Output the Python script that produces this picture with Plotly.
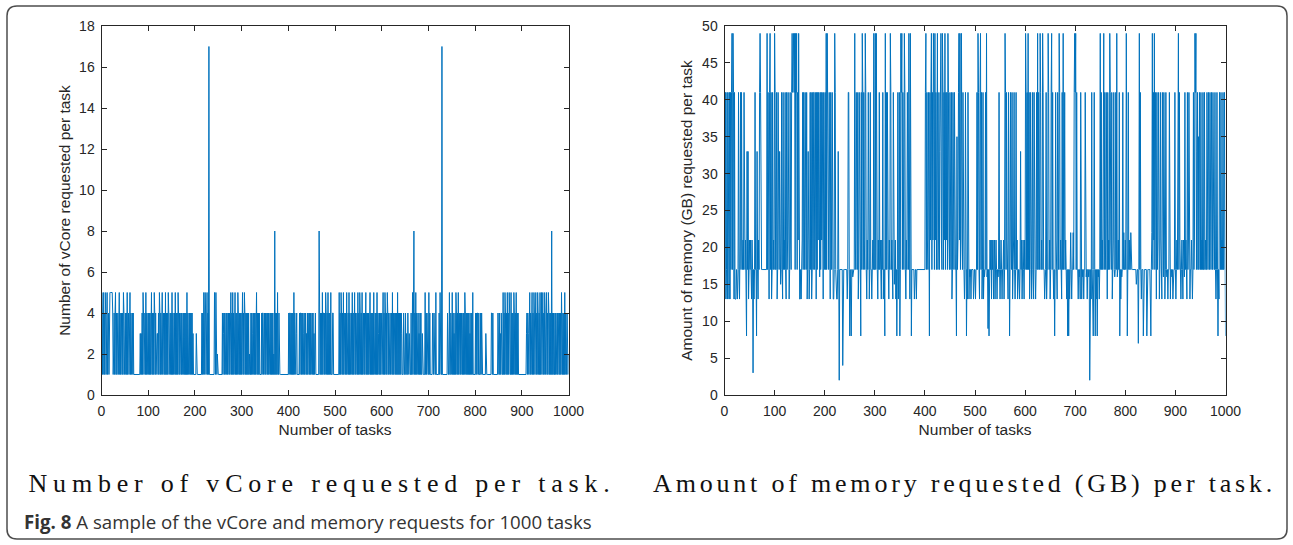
import plotly.graph_objects as go

# ---------------- data ----------------
vcore_values = [
    5,1,4,5,1,4,1,5,4,1, 4,5,1,3,4,1,5,5,5,5, 5,5,5,4,1,2,4,1,4,5, 1,4,1,4,4,1,4,5,1,4, 1,4,4,1,4,1,5,4,1,4,
    4,1,4,1,5,1,4,4,1,4, 5,1,4,1,3,4,1,4,1,1, 1,1,1,1,1,1,1,1,1,1, 1,1,3,1,3,1,4,1,5,4, 1,4,4,1,5,1,4,1,4,4,
    1,4,1,4,1,4,5,1,4,1, 4,1,5,4,1,4,1,3,3,3, 1,4,1,5,4,1,4,1,4,5, 1,4,4,1,4,1,5,1,4,1, 4,1,5,4,1,4,4,1,4,1,
    5,1,4,1,4,4,1,5,1,4, 1,4,1,5,4,1,4,1,4,4, 1,4,1,4,4,1,4,1,4,1, 4,1,5,1,4,1,4,4,1,4, 1,4,1,4,1,3,1,1,1,1,
    1,1,3,1,1,1,1,1,1,1, 1,1,1,1,4,1,4,1,5,4, 1,5,4,1,4,5,1,4,1,17, 1,1,1,1,1,1,1,1,1,1, 1,5,1,1,5,1,1,2,1,1,
    1,1,1,1,1,1,1,1,4,1, 3,4,1,4,1,3,4,1,4,1, 4,4,1,4,1,4,5,1,4,1, 5,1,4,1,4,5,1,4,1,4, 1,5,4,1,4,1,4,1,4,1,
    4,5,1,4,1,5,4,1,4,1, 4,1,4,1,4,1,2,1,1,4, 1,4,1,3,4,1,4,1,4,1, 4,5,1,4,1,4,1,4,1,1, 1,1,4,1,4,4,1,3,4,1,
    4,1,4,4,1,4,1,4,1,3, 4,1,4,1,4,1,4,1,2,1, 8,1,4,1,4,1,5,1,1,4, 1,1,1,1,1,1,1,1,1,1, 1,1,1,1,1,1,1,1,1,1,
    4,1,4,4,1,4,1,4,1,4, 1,5,1,4,2,1,3,4,1,1, 1,1,1,4,1,4,4,1,4,1, 4,3,1,4,1,4,4,1,3,1, 4,1,4,4,1,4,1,4,1,4,
    4,1,4,1,3,1,4,4,1,1, 1,1,1,1,1,8,1,1,4,1, 4,1,5,1,4,4,1,4,1,5, 4,1,4,1,5,1,4,1,4,1, 5,1,1,1,4,4,1,1,1,1,
    1,1,1,1,1,1,1,1,5,1, 4,1,5,4,1,4,1,5,1,4, 4,1,4,1,5,1,4,4,1,5, 1,4,1,4,4,1,5,1,4,1, 4,5,1,4,1,4,4,1,5,1,
    4,1,5,4,1,4,1,5,1,4, 4,1,4,1,4,5,1,4,1,4, 1,4,1,4,5,1,4,1,4,1, 4,1,5,1,4,4,1,4,1,5, 1,4,3,1,4,1,4,1,4,4,
    1,4,5,1,4,1,5,4,1,4, 1,5,4,1,4,1,4,4,1,3, 4,1,5,1,4,1,4,4,1,4, 1,4,1,5,1,4,1,4,1,4, 1,4,3,1,1,1,4,1,1,1,
    4,1,3,1,1,4,1,1,3,1, 1,1,4,1,1,5,1,4,8,1, 4,1,5,1,4,1,4,4,1,3, 1,4,1,4,1,1,3,1,1,1, 1,1,5,1,4,1,4,1,1,1,
    5,1,4,1,1,1,1,1,4,3, 1,4,1,1,1,5,1,1,1,1, 1,1,4,1,5,1,1,1,17,1, 1,1,1,1,1,1,1,1,1,1, 4,1,1,1,5,1,1,4,1,1,
    5,1,4,1,3,1,4,1,5,4, 1,4,1,5,1,4,4,1,4,1, 4,3,1,4,1,4,1,5,4,1, 4,1,4,1,4,1,4,1,3,1, 4,1,4,1,5,1,1,1,1,1,
    4,1,4,1,4,4,1,4,1,1, 1,4,1,4,1,1,1,1,1,1, 1,1,3,1,1,1,1,1,1,1, 1,1,1,1,4,4,1,4,1,1, 1,1,1,1,1,1,1,1,4,1,
    1,4,1,3,1,4,1,1,1,5, 1,4,1,5,4,1,4,1,5,1, 4,1,5,4,1,1,5,1,4,1, 4,1,5,4,1,4,1,5,1,4, 1,4,1,1,1,1,1,1,1,1,
    1,1,1,1,1,1,1,1,1,3, 4,1,4,3,1,4,5,1,4,1, 4,5,1,4,1,5,4,1,4,5, 1,4,1,5,4,1,4,1,5,1, 4,5,1,4,5,1,4,1,5,4,
    1,4,5,1,4,1,5,4,1,4, 1,4,1,8,1,4,1,4,1,1, 4,1,4,1,1,4,1,4,1,1, 4,1,4,1,5,1,1,4,1,4, 1,5,1,4,1,1,4,1,1,2,
]

memory_values = [
    13,41,13,17,41,13,41,17,13,41, 13,41,17,41,49,17,49,41,13,41, 13,13,13,17,13,13,17,41,17,13, 21,41,17,41,21,17,21,17,41,21, 17,21,17,8,33,17,33,13,17,21,
    17,21,17,13,21,17,3,17,13,17, 41,17,17,8,33,17,13,21,17,41, 49,41,21,17,17,17,17,17,17,17, 17,17,17,17,49,17,41,17,13,41, 49,17,41,13,17,41,17,21,17,49,
    41,17,17,41,13,17,41,17,17,33, 22,15,17,41,17,13,41,17,21,17, 41,17,13,41,17,21,41,17,13,17, 41,21,17,41,49,41,49,49,41,49, 17,49,41,49,17,41,21,49,17,13,
    13,17,13,17,21,41,17,41,21,17, 41,21,17,41,13,17,33,17,13,17, 41,17,41,13,17,41,17,41,41,17, 21,41,13,41,17,41,21,41,17,16, 41,17,41,21,41,17,13,41,17,17,
    41,17,49,17,49,41,21,17,41,17, 13,41,21,17,41,17,13,13,17,49, 41,17,13,13,13,17,33,17,2,17, 17,17,17,17,17,4,17,17,17,17, 17,17,17,17,13,17,41,41,17,8,
    17,13,8,17,17,16,17,17,17,49, 21,17,41,21,17,41,13,17,41,21, 17,8,41,17,49,41,17,41,21,17, 49,41,17,13,21,17,41,17,13,17, 41,17,17,13,17,21,17,49,17,17,
    49,17,49,21,17,13,21,17,41,17, 21,17,13,21,17,41,13,17,17,8, 49,17,41,17,41,21,17,13,21,17, 49,41,17,21,17,13,41,17,15,17, 21,13,17,8,17,41,13,17,41,8,
    17,49,41,49,17,41,21,17,49,41, 17,13,21,17,41,21,17,49,17,13, 49,17,8,17,17,17,17,17,13,17, 17,17,13,17,17,17,17,17,17,17, 17,17,17,17,17,17,17,17,17,17,
    41,49,17,41,21,17,41,21,8,41, 21,41,49,17,41,21,49,41,17,49, 21,41,17,41,49,17,21,41,17,33, 41,49,21,17,49,41,17,41,21,49, 17,41,21,41,17,49,41,21,17,41,
    21,17,41,13,17,41,21,17,41,17, 17,17,8,35,17,21,41,49,21,49, 17,41,49,21,17,41,21,17,13,17, 41,17,8,17,13,41,17,13,17,16, 17,13,17,17,17,17,13,17,17,17,
    13,17,17,41,17,49,41,17,13,41, 49,17,41,13,17,41,13,17,16,17, 41,17,49,16,17,9,17,8,17,21, 17,21,13,21,17,21,13,17,21,13, 17,21,17,13,17,16,17,41,17,13,
    17,21,17,13,17,17,21,13,17,49, 41,17,41,21,17,13,41,17,8,17, 41,21,17,41,13,17,21,41,17,13, 17,41,17,21,13,17,17,17,13,17, 33,17,21,13,17,21,17,13,21,17,
    49,41,17,41,17,49,17,41,13,17, 41,17,13,17,41,17,13,41,17,17, 13,17,41,17,49,17,41,17,17,49, 41,17,21,17,49,41,17,17,13,17, 17,41,13,17,17,49,41,17,21,13,
    17,41,49,17,41,17,13,17,8,17, 41,21,17,13,41,17,17,49,41,17, 21,17,13,41,17,49,17,21,41,17, 21,17,13,17,8,17,8,17,13,17, 22,17,13,17,17,22,17,41,49,41,
    49,17,41,17,17,13,17,16,17,13, 41,17,13,17,16,17,13,17,17,41, 17,16,17,13,17,17,16,17,2,17, 17,13,41,17,13,8,17,41,17,8, 17,13,17,8,17,16,17,13,17,49,
    17,41,17,21,17,41,49,17,41,21, 17,41,17,13,41,17,21,17,49,41, 21,17,41,13,17,21,41,17,16,17, 41,17,49,16,17,21,17,41,8,17, 13,17,16,17,41,17,22,17,17,21,
    17,49,17,8,17,41,17,21,17,17, 22,17,17,17,17,17,17,17,17,17, 17,15,17,17,17,7,17,49,17,41, 17,13,17,17,17,8,17,17,17,17, 17,17,8,17,17,17,17,17,17,13,
    8,17,22,49,17,41,21,49,17,41, 17,13,41,17,21,41,17,13,17,41, 21,17,13,41,17,16,41,17,13,17, 41,17,16,17,13,17,17,41,17,13, 17,17,16,17,13,17,17,17,41,17,
    13,17,21,17,41,49,17,41,21,17, 13,17,21,17,13,21,17,16,41,17, 21,17,13,41,17,21,41,17,13,17, 17,21,17,13,17,41,17,21,49,41, 49,17,33,41,17,35,17,41,17,17,
    41,17,21,17,41,17,17,41,17,21, 17,17,41,17,17,41,21,17,41,17, 17,41,17,17,41,21,17,17,41,17, 13,17,41,17,8,17,13,41,17,17, 41,17,21,17,41,17,17,41,17,8,
]

vcore_y_ticks = [0, 2, 4, 6, 8, 10, 12, 14, 16, 18]
memory_y_ticks = [0, 5, 10, 15, 20, 25, 30, 35, 40, 45, 50]
task_x_ticks = [0, 100, 200, 300, 400, 500, 600, 700, 800, 900, 1000]

vcore_tasks = list(range(1, len(vcore_values) + 1))
memory_tasks = list(range(1, len(memory_values) + 1))

x_title = "Number of tasks"
vcore_y_title = "Number of vCore requested per task"
memory_y_title = "Amount of memory (GB) requested per task"
caption_left = "Number of vCore requested per task."
caption_right = "Amount of memory requested (GB) per task."
fig_caption = "<b>Fig. 8</b> A sample of the vCore and memory requests for 1000 tasks"

# ---------------- figure ----------------
W, H = 1293, 545
LINE = "#0072BD"
AX = "#262626"
SANS = "Liberation Sans, Arial"

def px(x):
    return x / W

def py(y):
    return 1 - y / H

fig = go.Figure()
fig.add_trace(go.Scatter(x=vcore_tasks, y=vcore_values, mode="lines",
                         line=dict(color=LINE, width=1), xaxis="x", yaxis="y",
                         showlegend=False, hoverinfo="skip"))
fig.add_trace(go.Scatter(x=memory_tasks, y=memory_values, mode="lines",
                         line=dict(color=LINE, width=1), xaxis="x2", yaxis="y2",
                         showlegend=False, hoverinfo="skip"))

axis_common = dict(
    showgrid=False, zeroline=False, showline=True, linecolor=AX, linewidth=1,
    mirror="ticks", ticks="inside", ticklen=5, tickwidth=1, tickcolor=AX,
    automargin=False, ticklabelstandoff=3,
    tickfont=dict(family=SANS, size=14, color=AX),
)
title_font = dict(family=SANS, size=15.5, color=AX)
y_dom = [py(395), py(26)]

fig.update_layout(
    width=W, height=H,
    margin=dict(l=0, r=0, t=0, b=0, autoexpand=False),
    paper_bgcolor="white", plot_bgcolor="white",
    xaxis=dict(domain=[px(101.5), px(568.5)], range=[0, 1000], tickvals=task_x_ticks,
               title=dict(text=x_title, standoff=6, font=title_font),
               anchor="y", **axis_common),
    yaxis=dict(domain=y_dom, range=[0, 18], tickvals=vcore_y_ticks,
               title=dict(text=vcore_y_title, standoff=4, font=title_font),
               anchor="x", **axis_common),
    xaxis2=dict(domain=[px(724.5), px(1225.5)], range=[0, 1000], tickvals=task_x_ticks,
                title=dict(text=x_title, standoff=6, font=title_font),
                anchor="y2", **axis_common),
    yaxis2=dict(domain=y_dom, range=[0, 50], tickvals=memory_y_ticks,
                title=dict(text=memory_y_title, standoff=5, font=title_font),
                anchor="x2", **axis_common),
)

# rounded outer frame
x0, y0, x1, y1, r = 7, 6, 1287, 539, 10
path = (f"M {px(x0 + r)},{py(y0)} L {px(x1 - r)},{py(y0)} "
        f"Q {px(x1)},{py(y0)} {px(x1)},{py(y0 + r)} "
        f"L {px(x1)},{py(y1 - r)} Q {px(x1)},{py(y1)} {px(x1 - r)},{py(y1)} "
        f"L {px(x0 + r)},{py(y1)} Q {px(x0)},{py(y1)} {px(x0)},{py(y1 - r)} "
        f"L {px(x0)},{py(y0 + r)} Q {px(x0)},{py(y0)} {px(x0 + r)},{py(y0)} Z")
fig.add_shape(type="path", path=path, xref="paper", yref="paper",
              line=dict(color="#4d4d4d", width=1.5))

fig.add_annotation(text=caption_left, x=px(322), y=py(483), xref="paper", yref="paper",
                   showarrow=False, xanchor="center", yanchor="middle",
                   font=dict(family="Liberation Serif, Times New Roman", size=26, color="#111111"))
fig.add_annotation(text=caption_right, x=px(964), y=py(483), xref="paper", yref="paper",
                   showarrow=False, xanchor="center", yanchor="middle",
                   font=dict(family="Liberation Serif, Times New Roman", size=26, color="#111111"))
fig.add_annotation(text=fig_caption, x=px(22), y=py(521), xref="paper", yref="paper",
                   showarrow=False, xanchor="left", yanchor="middle",
                   font=dict(family="Open Sans", size=18.7, color="#333333"))

post = """
var st = document.createElement('style');
st.innerHTML = '.annotation[data-index="0"] .annotation-text{letter-spacing:5.8px;}' +
               '.annotation[data-index="1"] .annotation-text{letter-spacing:3.8px;}';
document.head.appendChild(st);
"""
fig.write_html("out.html", post_script=post)
